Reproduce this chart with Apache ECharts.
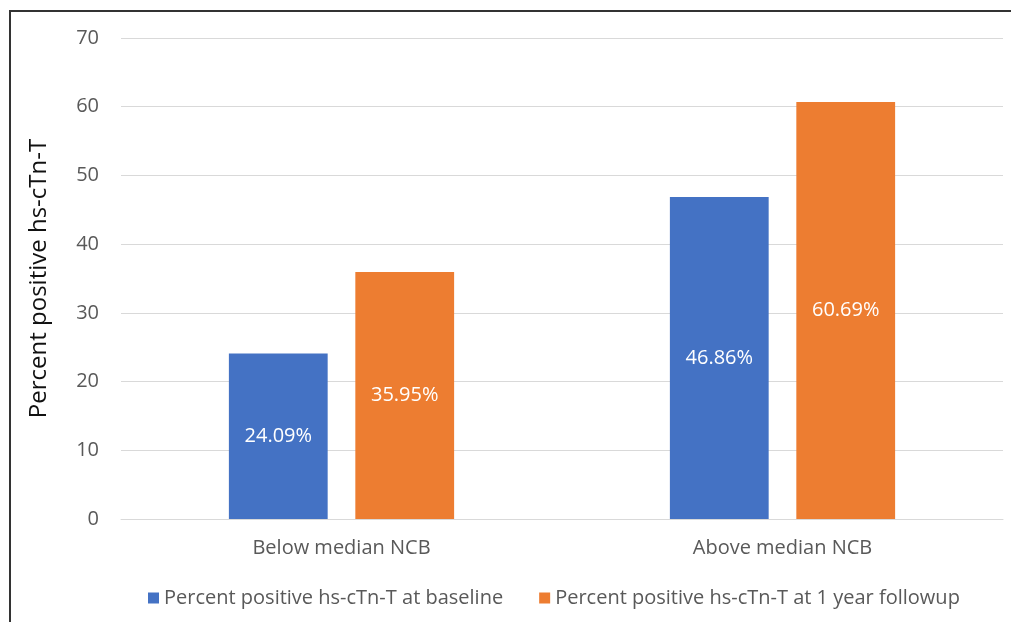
<!DOCTYPE html>
<html>
<head>
<meta charset="utf-8">
<script src="https://cdn.jsdelivr.net/npm/echarts@6/dist/echarts.min.js"></script>
<style>
  html, body { margin: 0; padding: 0; background: #fff; }
  #main { width: 1011px; height: 622px; }
</style>
</head>
<body>
<div id="main"></div>
<script>
var categories = ["Below median NCB", "Above median NCB"];
var seriesNames = ["Percent positive hs-cTn-T at baseline", "Percent positive hs-cTn-T at 1 year followup"];
var baseline = [24.09, 46.86];
var followup = [35.95, 60.69];

var chart = echarts.init(document.getElementById("main"));
var font = "'Open Sans', 'Noto Sans', sans-serif";

var labelStyle = {
  show: true,
  position: "inside",
  color: "#fff",
  fontSize: 20,
  fontFamily: font,
  formatter: function (p) { return p.value.toFixed(2) + "%"; }
};

chart.setOption({
  animation: false,
  textStyle: { fontFamily: font },
  graphic: [{
    type: "polyline",
    shape: { points: [[10, 622], [10, 11], [1011, 11]] },
    style: { stroke: "#333", lineWidth: 2, fill: null }
  }],
  grid: { left: 121, right: 8, top: 38, bottom: 103 },
  legend: {
    bottom: 9,
    left: 143,
    itemWidth: 11,
    itemHeight: 11,
    itemGap: 36,
    icon: "rect",
    textStyle: { color: "#595959", fontSize: 20, fontFamily: font },
    data: seriesNames
  },
  xAxis: {
    type: "category",
    data: categories,
    axisTick: { show: false },
    axisLine: { lineStyle: { color: "#d9d9d9" } },
    axisLabel: { color: "#595959", fontSize: 20, margin: 19 }
  },
  yAxis: {
    type: "value",
    min: 0,
    max: 70,
    interval: 10,
    name: "Percent positive hs-cTn-T",
    nameLocation: "middle",
    nameGap: 70,
    nameTextStyle: { color: "#111", fontSize: 24, fontFamily: font },
    axisLine: { show: false },
    axisTick: { show: false },
    axisLabel: { color: "#595959", fontSize: 20, margin: 22 },
    splitLine: { lineStyle: { color: "#d9d9d9" } }
  },
  series: [{
    name: seriesNames[0],
    type: "bar",
    data: baseline,
    barWidth: "22.4%",
    barGap: "28%",
    itemStyle: { color: "#4472C4" },
    label: labelStyle
  }, {
    name: seriesNames[1],
    type: "bar",
    data: followup,
    barWidth: "22.4%",
    itemStyle: { color: "#ED7D31" },
    label: labelStyle
  }]
});
</script>
</body>
</html>
